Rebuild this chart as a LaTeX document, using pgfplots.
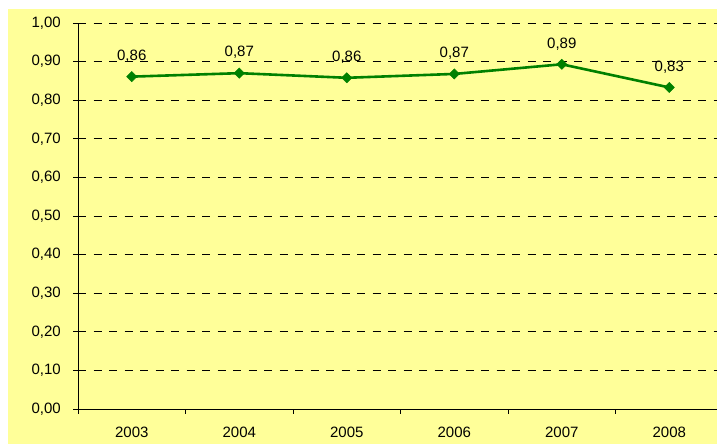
\documentclass[border=0pt]{standalone}
\usepackage{fontspec}
\setmainfont{Liberation Sans}
\usepackage{pgfplots}
\pgfplotsset{compat=1.18}
\definecolor{bgyellow}{RGB}{255,255,153}
\definecolor{linegreen}{RGB}{0,128,0}
\begin{document}
\begin{tikzpicture}[x=1bp,y=1bp]
\useasboundingbox (0,0) rectangle (717,444);
\fill[bgyellow] (8,0) rectangle (717,435);
\begin{axis}[
  at={(78bp,35bp)}, anchor=south west,
  scale only axis, width=639bp, height=386bp,
  xmin=-0.5, xmax=5.444, ymin=0, ymax=1,
  axis lines=left,
  axis line style={-, black, line width=0.9bp},
  tick align=outside,
  major tick length=5bp,
  tick style={black, line width=0.8bp},
  xtick={0,1,2,3,4,5},
  xticklabels={2003,2004,2005,2006,2007,2008},
  xtick style={draw=none},
  extra x ticks={-0.5,0.5,1.5,2.5,3.5,4.5},
  extra x tick labels={},
  extra x tick style={xtick style={draw=black}, grid=none},
  ytick={0,0.1,...,1.0},
  ymajorgrids,
  grid style={black, dash pattern=on 8bp off 7.5bp, line width=0.8bp},
  /pgf/number format/.cd, fixed, fixed zerofill, precision=2, use comma, assume math mode=true,
  /pgfplots/.cd,
  tick label style={font=\fontsize{15bp}{18bp}\selectfont},
  yticklabel style={inner sep=0pt, xshift=-12bp},
  xticklabel style={inner sep=0pt, yshift=-13bp},
  nodes near coords,
  every node near coord/.append style={font=\fontsize{15bp}{18bp}\selectfont, anchor=south, inner sep=0pt, yshift=14bp, black},
]
\addplot[linegreen, line width=2.6bp, mark=square*, mark size=3.6bp,
  mark options={rotate=45, fill=linegreen, draw=linegreen, line width=0.5bp}]
  coordinates {(0,0.861) (1,0.870) (2,0.858) (3,0.868) (4,0.893) (5,0.833)};
\end{axis}
\end{tikzpicture}
\end{document}
